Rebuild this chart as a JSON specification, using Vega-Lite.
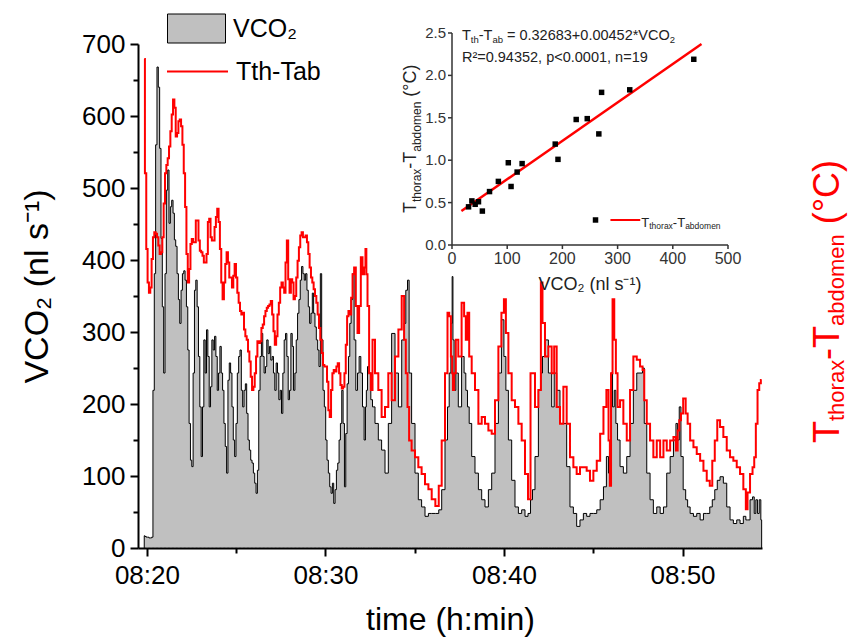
{
"$schema": "https://vega.github.io/schema/vega-lite/v6.json",
"width": 624, "height": 504,
"autosize": {"type": "none"},
"padding": {"left": 138, "top": 44, "right": 89, "bottom": 91},
"background": "white",
"config": {
  "font": "Liberation Sans",
  "view": {"stroke": null},
  "axis": {"grid": false, "labelFont": "Liberation Sans", "titleFont": "Liberation Sans", "titleFontWeight": "normal", "labelFlush": false, "labelOverlap": false},
  "legend": {"labelFont": "Liberation Sans"}
},
"datasets": {
  "series": [
{"t":-0.15,"vco2":17,"dT":2.91},{"t":-0.075,"vco2":16,"dT":2.23},{"t":0,"vco2":15,"dT":1.78},{"t":0.075,"vco2":15,"dT":1.58},{"t":0.15,"vco2":14,"dT":1.52},{"t":0.225,"vco2":14,"dT":1.55},{"t":0.3,"vco2":15,"dT":1.72},{"t":0.375,"vco2":219,"dT":1.85},{"t":0.45,"vco2":381,"dT":1.88},{"t":0.525,"vco2":560,"dT":1.87},{"t":0.6,"vco2":668,"dT":1.85},{"t":0.675,"vco2":640,"dT":1.8},{"t":0.75,"vco2":555,"dT":1.75},{"t":0.825,"vco2":430,"dT":1.76},{"t":0.9,"vco2":335,"dT":1.85},{"t":0.975,"vco2":243,"dT":2.05},{"t":1.05,"vco2":381,"dT":2.23},{"t":1.125,"vco2":497,"dT":2.28},{"t":1.2,"vco2":525,"dT":2.32},{"t":1.275,"vco2":451,"dT":2.39},{"t":1.35,"vco2":474,"dT":2.48},{"t":1.425,"vco2":483,"dT":2.58},{"t":1.5,"vco2":465,"dT":2.67},{"t":1.575,"vco2":428,"dT":2.62},{"t":1.65,"vco2":419,"dT":2.45},{"t":1.725,"vco2":381,"dT":2.47},{"t":1.8,"vco2":345,"dT":2.54},{"t":1.875,"vco2":312,"dT":2.55},{"t":1.95,"vco2":358,"dT":2.51},{"t":2.025,"vco2":381,"dT":2.4},{"t":2.1,"vco2":385,"dT":2.23},{"t":2.175,"vco2":372,"dT":2.03},{"t":2.25,"vco2":335,"dT":1.75},{"t":2.325,"vco2":275,"dT":1.58},{"t":2.4,"vco2":173,"dT":1.66},{"t":2.475,"vco2":122,"dT":1.81},{"t":2.55,"vco2":113,"dT":1.84},{"t":2.625,"vco2":243,"dT":1.82},{"t":2.7,"vco2":358,"dT":1.82},{"t":2.775,"vco2":372,"dT":1.95},{"t":2.85,"vco2":335,"dT":1.95},{"t":2.925,"vco2":266,"dT":1.83},{"t":3.0,"vco2":196,"dT":1.77},{"t":3.075,"vco2":127,"dT":1.76},{"t":3.15,"vco2":196,"dT":1.74},{"t":3.225,"vco2":289,"dT":1.7},{"t":3.3,"vco2":243,"dT":1.7},{"t":3.375,"vco2":303,"dT":1.75},{"t":3.45,"vco2":266,"dT":1.94},{"t":3.525,"vco2":196,"dT":1.96},{"t":3.6,"vco2":224,"dT":1.85},{"t":3.675,"vco2":289,"dT":1.83},{"t":3.75,"vco2":275,"dT":1.83},{"t":3.825,"vco2":294,"dT":1.91},{"t":3.9,"vco2":266,"dT":1.97},{"t":3.975,"vco2":219,"dT":2.02},{"t":4.05,"vco2":243,"dT":1.94},{"t":4.125,"vco2":280,"dT":1.78},{"t":4.2,"vco2":243,"dT":1.58},{"t":4.275,"vco2":219,"dT":1.48},{"t":4.35,"vco2":173,"dT":1.58},{"t":4.425,"vco2":141,"dT":1.69},{"t":4.5,"vco2":104,"dT":1.76},{"t":4.575,"vco2":233,"dT":1.7},{"t":4.65,"vco2":257,"dT":1.61},{"t":4.725,"vco2":243,"dT":1.61},{"t":4.8,"vco2":196,"dT":1.55},{"t":4.875,"vco2":150,"dT":1.62},{"t":4.95,"vco2":127,"dT":1.69},{"t":5.025,"vco2":173,"dT":1.61},{"t":5.1,"vco2":243,"dT":1.52},{"t":5.175,"vco2":266,"dT":1.46},{"t":5.25,"vco2":275,"dT":1.41},{"t":5.325,"vco2":219,"dT":1.39},{"t":5.4,"vco2":196,"dT":1.4},{"t":5.475,"vco2":219,"dT":1.3},{"t":5.55,"vco2":228,"dT":1.26},{"t":5.625,"vco2":187,"dT":1.24},{"t":5.7,"vco2":150,"dT":1.17},{"t":5.775,"vco2":136,"dT":1.11},{"t":5.85,"vco2":122,"dT":1.02},{"t":5.925,"vco2":118,"dT":0.94},{"t":6.0,"vco2":104,"dT":0.96},{"t":6.075,"vco2":90,"dT":1.04},{"t":6.15,"vco2":76,"dT":1.14},{"t":6.225,"vco2":108,"dT":1.23},{"t":6.3,"vco2":219,"dT":1.22},{"t":6.375,"vco2":266,"dT":1.23},{"t":6.45,"vco2":298,"dT":1.31},{"t":6.525,"vco2":266,"dT":1.33},{"t":6.6,"vco2":243,"dT":1.38},{"t":6.675,"vco2":252,"dT":1.41},{"t":6.75,"vco2":289,"dT":1.43},{"t":6.825,"vco2":270,"dT":1.44},{"t":6.9,"vco2":280,"dT":1.45},{"t":6.975,"vco2":261,"dT":1.47},{"t":7.05,"vco2":266,"dT":1.39},{"t":7.125,"vco2":243,"dT":1.29},{"t":7.2,"vco2":219,"dT":1.21},{"t":7.275,"vco2":257,"dT":1.26},{"t":7.35,"vco2":243,"dT":1.39},{"t":7.425,"vco2":206,"dT":1.46},{"t":7.5,"vco2":219,"dT":1.55},{"t":7.575,"vco2":187,"dT":1.58},{"t":7.65,"vco2":243,"dT":1.55},{"t":7.725,"vco2":289,"dT":1.52},{"t":7.8,"vco2":298,"dT":1.7},{"t":7.875,"vco2":266,"dT":1.83},{"t":7.95,"vco2":206,"dT":1.6},{"t":8.025,"vco2":219,"dT":1.52},{"t":8.1,"vco2":298,"dT":1.6},{"t":8.175,"vco2":280,"dT":1.58},{"t":8.25,"vco2":219,"dT":1.48},{"t":8.325,"vco2":243,"dT":1.5},{"t":8.4,"vco2":289,"dT":1.61},{"t":8.475,"vco2":326,"dT":1.71},{"t":8.55,"vco2":345,"dT":1.79},{"t":8.625,"vco2":372,"dT":1.86},{"t":8.7,"vco2":391,"dT":1.88},{"t":8.775,"vco2":381,"dT":1.85},{"t":8.85,"vco2":372,"dT":1.85},{"t":8.925,"vco2":381,"dT":1.86},{"t":9.0,"vco2":358,"dT":1.82},{"t":9.075,"vco2":335,"dT":1.75},{"t":9.15,"vco2":312,"dT":1.67},{"t":9.225,"vco2":326,"dT":1.61},{"t":9.3,"vco2":354,"dT":1.58},{"t":9.375,"vco2":326,"dT":1.54},{"t":9.45,"vco2":307,"dT":1.5},{"t":9.525,"vco2":289,"dT":1.46},{"t":9.6,"vco2":275,"dT":1.39},{"t":9.675,"vco2":252,"dT":1.31},{"t":9.75,"vco2":381,"dT":1.24},{"t":9.825,"vco2":289,"dT":1.16},{"t":9.9,"vco2":219,"dT":1.09},{"t":9.975,"vco2":196,"dT":1.08},{"t":10.05,"vco2":150,"dT":1.08},{"t":10.125,"vco2":122,"dT":0.99},{"t":10.2,"vco2":104,"dT":0.82},{"t":10.275,"vco2":85,"dT":0.78},{"t":10.35,"vco2":76,"dT":0.94},{"t":10.425,"vco2":90,"dT":1.04},{"t":10.5,"vco2":62,"dT":1.06},{"t":10.575,"vco2":81,"dT":1.05},{"t":10.65,"vco2":108,"dT":1.08},{"t":10.725,"vco2":118,"dT":1.1},{"t":10.8,"vco2":150,"dT":1.04},{"t":10.875,"vco2":173,"dT":0.97},{"t":10.95,"vco2":219,"dT":0.95},{"t":11.025,"vco2":173,"dT":0.96},{"t":11.1,"vco2":85,"dT":1.04},{"t":11.175,"vco2":159,"dT":1.21},{"t":11.25,"vco2":228,"dT":1.38},{"t":11.325,"vco2":266,"dT":1.41},{"t":11.4,"vco2":312,"dT":1.39},{"t":11.475,"vco2":345,"dT":1.49},
{"t":11.56,"vco2":381,"dT":1.63},{"t":11.65,"vco2":289,"dT":1.67},{"t":11.75,"vco2":219,"dT":1.44},{"t":11.84,"vco2":243,"dT":1.28},{"t":11.93,"vco2":266,"dT":1.44},{"t":12.03,"vco2":243,"dT":1.73},{"t":12.12,"vco2":196,"dT":1.63},{"t":12.21,"vco2":150,"dT":1.67},{"t":12.27,"vco2":196,"dT":1.78},{"t":12.31,"vco2":219,"dT":1.63},{"t":12.4,"vco2":252,"dT":1.44},{"t":12.49,"vco2":243,"dT":1.04},{"t":12.59,"vco2":206,"dT":0.94},{"t":12.68,"vco2":196,"dT":1.24},{"t":12.87,"vco2":173,"dT":1.04},{"t":13.05,"vco2":150,"dT":0.94},{"t":13.24,"vco2":136,"dT":0.78},{"t":13.43,"vco2":104,"dT":0.84},{"t":13.61,"vco2":173,"dT":1.04},{"t":13.8,"vco2":298,"dT":0.88},{"t":13.99,"vco2":243,"dT":1.14},{"t":14.18,"vco2":196,"dT":1.3},{"t":14.36,"vco2":289,"dT":1.5},{"t":14.45,"vco2":312,"dT":1.24},{"t":14.55,"vco2":358,"dT":1.04},{"t":14.64,"vco2":372,"dT":0.84},{"t":14.73,"vco2":243,"dT":0.64},{"t":14.92,"vco2":173,"dT":0.58},{"t":15.11,"vco2":104,"dT":0.54},{"t":15.29,"vco2":67,"dT":0.48},{"t":15.48,"vco2":57,"dT":0.44},{"t":15.67,"vco2":44,"dT":0.38},{"t":15.86,"vco2":48,"dT":0.35},{"t":16.04,"vco2":48,"dT":0.29},{"t":16.27,"vco2":48,"dT":0.25},{"t":16.42,"vco2":53,"dT":0.37},{"t":16.6,"vco2":81,"dT":0.64},{"t":16.79,"vco2":150,"dT":1.04},{"t":16.88,"vco2":196,"dT":1.4},{"t":16.98,"vco2":243,"dT":1.38},{"t":17.07,"vco2":312,"dT":1.14},{"t":17.12,"vco2":377,"dT":1.04},{"t":17.16,"vco2":289,"dT":0.94},{"t":17.25,"vco2":219,"dT":1.04},{"t":17.35,"vco2":243,"dT":1.24},{"t":17.53,"vco2":196,"dT":1.14},{"t":17.72,"vco2":266,"dT":1.46},{"t":17.81,"vco2":243,"dT":1.38},{"t":17.91,"vco2":219,"dT":1.24},{"t":18.0,"vco2":196,"dT":1.4},{"t":18.1,"vco2":173,"dT":1.14},{"t":18.28,"vco2":127,"dT":1.04},{"t":18.47,"vco2":104,"dT":0.94},{"t":18.66,"vco2":81,"dT":0.74},{"t":18.84,"vco2":67,"dT":0.78},{"t":19.03,"vco2":57,"dT":0.74},{"t":19.22,"vco2":81,"dT":0.7},{"t":19.4,"vco2":104,"dT":0.68},{"t":19.59,"vco2":173,"dT":0.88},{"t":19.78,"vco2":243,"dT":1.2},{"t":19.93,"vco2":317,"dT":1.4},{"t":20.06,"vco2":266,"dT":1.48},{"t":20.15,"vco2":219,"dT":1.28},{"t":20.34,"vco2":150,"dT":1.04},{"t":20.52,"vco2":94,"dT":0.88},{"t":20.71,"vco2":57,"dT":0.84},{"t":20.9,"vco2":48,"dT":0.74},{"t":21.08,"vco2":53,"dT":0.64},{"t":21.27,"vco2":44,"dT":0.44},{"t":21.42,"vco2":48,"dT":0.29},{"t":21.55,"vco2":67,"dT":1.04},{"t":21.64,"vco2":81,"dT":1.04},{"t":21.83,"vco2":127,"dT":0.84},{"t":22.02,"vco2":219,"dT":0.94},{"t":22.11,"vco2":243,"dT":1.58},{"t":22.2,"vco2":266,"dT":1.34},{"t":22.39,"vco2":289,"dT":1.14},{"t":22.58,"vco2":243,"dT":1.2},{"t":22.76,"vco2":196,"dT":1.04},
{"t":22.86,"vco2":243,"dT":1.2},{"t":23.04,"vco2":219,"dT":0.84},{"t":23.23,"vco2":173,"dT":0.74},{"t":23.42,"vco2":173,"dT":0.96},{"t":23.6,"vco2":113,"dT":0.74},{"t":23.79,"vco2":57,"dT":0.54},{"t":23.98,"vco2":48,"dT":0.48},{"t":24.16,"vco2":30,"dT":0.44},{"t":24.35,"vco2":39,"dT":0.48},{"t":24.54,"vco2":48,"dT":0.48},{"t":24.72,"vco2":44,"dT":0.46},{"t":24.91,"vco2":48,"dT":0.4},{"t":25.1,"vco2":48,"dT":0.46},{"t":25.29,"vco2":53,"dT":0.52},{"t":25.48,"vco2":67,"dT":0.68},{"t":25.66,"vco2":85,"dT":0.84},{"t":25.81,"vco2":127,"dT":0.94},{"t":25.9,"vco2":104,"dT":0.64},{"t":25.96,"vco2":150,"dT":0.37},{"t":26.03,"vco2":243,"dT":1.04},{"t":26.13,"vco2":196,"dT":1.48},{"t":26.22,"vco2":219,"dT":1.24},{"t":26.31,"vco2":173,"dT":1.04},{"t":26.41,"vco2":150,"dT":0.84},{"t":26.59,"vco2":113,"dT":0.88},{"t":26.78,"vco2":104,"dT":0.74},{"t":26.97,"vco2":127,"dT":0.64},{"t":27.15,"vco2":173,"dT":0.94},{"t":27.34,"vco2":219,"dT":1.14},{"t":27.53,"vco2":243,"dT":1.12},{"t":27.71,"vco2":243,"dT":1.08},{"t":27.81,"vco2":250,"dT":1.06},{"t":27.9,"vco2":173,"dT":0.88},{"t":28.09,"vco2":104,"dT":0.74},{"t":28.27,"vco2":67,"dT":0.64},{"t":28.46,"vco2":48,"dT":0.54},{"t":28.65,"vco2":57,"dT":0.64},{"t":28.84,"vco2":48,"dT":0.54},{"t":29.02,"vco2":57,"dT":0.64},{"t":29.21,"vco2":104,"dT":0.58},{"t":29.4,"vco2":127,"dT":0.64},{"t":29.58,"vco2":150,"dT":0.66},{"t":29.68,"vco2":173,"dT":0.58},{"t":29.77,"vco2":150,"dT":0.7},{"t":29.86,"vco2":196,"dT":0.76},{"t":29.96,"vco2":127,"dT":0.8},{"t":30.11,"vco2":81,"dT":0.89},{"t":30.24,"vco2":67,"dT":0.8},{"t":30.33,"vco2":57,"dT":0.74},{"t":30.52,"vco2":48,"dT":0.64},{"t":30.7,"vco2":44,"dT":0.6},{"t":30.89,"vco2":48,"dT":0.56},{"t":31.08,"vco2":39,"dT":0.52},{"t":31.26,"vco2":48,"dT":0.46},{"t":31.45,"vco2":48,"dT":0.4},{"t":31.6,"vco2":57,"dT":0.37},{"t":31.73,"vco2":67,"dT":0.52},{"t":31.88,"vco2":81,"dT":0.64},{"t":32.01,"vco2":94,"dT":0.76},{"t":32.19,"vco2":99,"dT":0.72},{"t":32.38,"vco2":90,"dT":0.66},{"t":32.57,"vco2":57,"dT":0.58},{"t":32.75,"vco2":39,"dT":0.54},{"t":32.94,"vco2":34,"dT":0.52},{"t":33.13,"vco2":39,"dT":0.48},{"t":33.31,"vco2":34,"dT":0.44},{"t":33.5,"vco2":44,"dT":0.35},{"t":33.59,"vco2":39,"dT":0.23},{"t":33.69,"vco2":39,"dT":0.33},{"t":33.87,"vco2":67,"dT":0.44},{"t":33.97,"vco2":71,"dT":0.48},{"t":34.06,"vco2":48,"dT":0.54},{"t":34.15,"vco2":67,"dT":0.74},{"t":34.25,"vco2":48,"dT":0.94},{"t":34.34,"vco2":67,"dT":0.98},{"t":34.43,"vco2":39,"dT":1.0}
  ],
  "scatter": [
{"vco2":30,"dT":0.45},{"vco2":36,"dT":0.52},{"vco2":42,"dT":0.48},{"vco2":48,"dT":0.51},{"vco2":55,"dT":0.4},{"vco2":68,"dT":0.63},{"vco2":84,"dT":0.75},{"vco2":102,"dT":0.97},{"vco2":107,"dT":0.69},{"vco2":118,"dT":0.86},{"vco2":127,"dT":0.96},{"vco2":187,"dT":1.19},{"vco2":192,"dT":1.01},{"vco2":225,"dT":1.48},{"vco2":245,"dT":1.49},{"vco2":266,"dT":1.31},{"vco2":271,"dT":1.8},{"vco2":322,"dT":1.83},{"vco2":438,"dT":2.19}
  ],
  "fit": [{"vco2":17,"dT":0.40},{"vco2":452,"dT":2.37}],
  "ixt": [{"v":0},{"v":100},{"v":200},{"v":300},{"v":400},{"v":500}],
  "iyt": [{"v":0},{"v":0.5},{"v":1},{"v":1.5},{"v":2},{"v":2.5}]
},
"layer": [
  {
    "layer": [
      {
        "data": {"name": "series"},
        "mark": {"type": "area", "interpolate": "step", "stroke": "#000000", "strokeWidth": 1},
        "encoding": {
          "x": {"field": "t", "type": "quantitative", "scale": {"domain": [-0.5, 34.45], "nice": false, "zero": false},
            "axis": {"orient": "bottom", "values": [0,5,10,15,20,25,30], "labelExpr": "datum.value % 10 === 0 ? '08:' + (20 + datum.value) : ''",
              "title": "time (h:min)", "titleFontSize": 32, "titleColor": "#000000", "titlePadding": 16,
              "domainColor": "#000000", "domainWidth": 2, "tickColor": "#000000", "tickWidth": 2,
              "tickSize": {"condition": {"test": "datum.value % 10 === 0", "value": 8}, "value": 5},
              "labelFontSize": 26, "labelColor": "#000000", "labelPadding": 6}},
          "y": {"field": "vco2", "type": "quantitative", "scale": {"domain": [0, 700], "nice": false},
            "axis": {"orient": "left", "values": [0,50,100,150,200,250,300,350,400,450,500,550,600,650,700],
              "labelExpr": "datum.value % 100 === 0 ? datum.label : ''",
              "title": "VCO₂ (nl s⁻¹)", "titleFontSize": 34, "titleColor": "#000000", "titlePadding": 27, "titleY": 242,
              "domainColor": "#000000", "domainWidth": 2, "tickColor": "#000000", "tickWidth": 2,
              "tickSize": {"condition": {"test": "datum.value % 100 === 0", "value": 8}, "value": 5},
              "labelFontSize": 26, "labelColor": "#000000", "labelPadding": 5}},
          "fill": {"datum": "VCO₂", "type": "nominal", "scale": {"range": ["#c0c0c0"]},
            "legend": {"orient": "none", "legendX": 29, "legendY": -45, "title": null, "padding": 0,
              "symbolType": "M-1,-0.5H1V0.5H-1Z", "symbolSize": 3364, "symbolStrokeColor": "#000000", "symbolStrokeWidth": 1,
              "labelFontSize": 25, "labelOffset": 7, "labelColor": "#000000"}}
        }
      }
    ]
  },
  {
    "layer": [
      {
        "data": {"name": "series"},
        "mark": {"type": "line", "interpolate": "step", "strokeWidth": 2},
        "encoding": {
          "x": {"field": "t", "type": "quantitative", "scale": {"domain": [-0.5, 34.45], "nice": false, "zero": false}, "axis": null},
          "y": {"field": "dT", "type": "quantitative", "scale": {"domain": [0, 3], "nice": false},
            "axis": {"orient": "right", "values": [0,0.25,0.5,0.75,1,1.25,1.5,1.75,2,2.25,2.5,2.75,3],
              "labelExpr": "datum.value % 0.5 === 0 ? format(datum.value, '.1f') : ''", "title": null,
              "domainColor": "#ff0000", "domainWidth": 2, "tickColor": "#ff0000", "tickWidth": 2,
              "tickSize": {"condition": {"test": "datum.value % 0.5 === 0", "value": 8}, "value": 5},
              "labelFontSize": 26, "labelColor": "#ff0000", "labelPadding": 5}},
          "stroke": {"datum": "Tth-Tab", "type": "nominal", "scale": {"range": ["#ff0000"]},
            "legend": {"orient": "none", "legendX": 28, "legendY": -4, "title": null, "padding": 0,
              "symbolType": "stroke", "symbolSize": 3721, "symbolStrokeWidth": 2,
              "labelFontSize": 25, "labelOffset": 7, "labelColor": "#000000"}}
        }
      },
      {"data": {"values": [{}]}, "mark": {"type": "text", "angle": 270, "align": "left", "baseline": "alphabetic", "dx": 0, "dy": 0, "fontSize": 36, "color": "#ff0000", "text": "T"},
       "encoding": {"x": {"datum": 38.77, "type": "quantitative", "axis": null}, "y": {"datum": 0.625, "type": "quantitative", "axis": null}}},
      {"data": {"values": [{}]}, "mark": {"type": "text", "angle": 270, "align": "left", "baseline": "alphabetic", "dx": 22, "dy": 5, "fontSize": 22, "color": "#ff0000", "text": "thorax"},
       "encoding": {"x": {"datum": 38.77, "type": "quantitative", "axis": null}, "y": {"datum": 0.625, "type": "quantitative", "axis": null}}},
      {"data": {"values": [{}]}, "mark": {"type": "text", "angle": 270, "align": "left", "baseline": "alphabetic", "dx": 83, "dy": 0, "fontSize": 36, "color": "#ff0000", "text": "-T"},
       "encoding": {"x": {"datum": 38.77, "type": "quantitative", "axis": null}, "y": {"datum": 0.625, "type": "quantitative", "axis": null}}},
      {"data": {"values": [{}]}, "mark": {"type": "text", "angle": 270, "align": "left", "baseline": "alphabetic", "dx": 117, "dy": 5, "fontSize": 22, "color": "#ff0000", "text": "abdomen"},
       "encoding": {"x": {"datum": 38.77, "type": "quantitative", "axis": null}, "y": {"datum": 0.625, "type": "quantitative", "axis": null}}},
      {"data": {"values": [{}]}, "mark": {"type": "text", "angle": 270, "align": "left", "baseline": "alphabetic", "dx": 218.7, "dy": 0, "fontSize": 36, "color": "#ff0000", "text": "(°C)"},
       "encoding": {"x": {"datum": 38.77, "type": "quantitative", "axis": null}, "y": {"datum": 0.625, "type": "quantitative", "axis": null}}}
    ]
  },
  {
    "layer": [
      {
        "data": {"name": "fit"},
        "mark": {"type": "line", "color": "#ff0000", "strokeWidth": 2.5},
        "encoding": {
          "x": {"field": "vco2", "type": "quantitative", "scale": {"domain": [0, 500], "range": [314, 590], "nice": false, "zero": false}, "axis": null},
          "y": {"field": "dT", "type": "quantitative", "scale": {"domain": [0, 2.5], "range": [201, -11], "nice": false}, "axis": null}
        }
      },
      {"data": {"values": [{}]}, "mark": {"type": "rule", "color": "#333333", "strokeWidth": 1.5},
       "encoding": {"x": {"datum": 0, "type": "quantitative", "axis": null}, "x2": {"datum": 500}, "y": {"datum": 0, "type": "quantitative", "axis": null}}},
      {"data": {"values": [{}]}, "mark": {"type": "rule", "color": "#333333", "strokeWidth": 1.5},
       "encoding": {"x": {"datum": 0, "type": "quantitative", "axis": null}, "y": {"datum": 0, "type": "quantitative", "axis": null}, "y2": {"datum": 2.5}}},
      {"data": {"name": "ixt"}, "mark": {"type": "rule", "color": "#333333", "strokeWidth": 1.5, "y2Offset": 4},
       "encoding": {"x": {"field": "v", "type": "quantitative", "axis": null}, "y": {"datum": 0, "type": "quantitative", "axis": null}, "y2": {"datum": 0}}},
      {"data": {"name": "iyt"}, "mark": {"type": "rule", "color": "#333333", "strokeWidth": 1.5, "x2Offset": -4},
       "encoding": {"y": {"field": "v", "type": "quantitative", "axis": null}, "x": {"datum": 0, "type": "quantitative", "axis": null}, "x2": {"datum": 0}}},
      {"data": {"name": "ixt"}, "mark": {"type": "text", "baseline": "top", "align": "center", "dy": 6, "fontSize": 16, "color": "#333333"},
       "encoding": {"x": {"field": "v", "type": "quantitative", "axis": null}, "y": {"datum": 0, "type": "quantitative", "axis": null}, "text": {"field": "v", "type": "quantitative"}}},
      {"data": {"name": "iyt"}, "mark": {"type": "text", "baseline": "middle", "align": "right", "dx": -6, "fontSize": 15, "color": "#333333"},
       "encoding": {"y": {"field": "v", "type": "quantitative", "axis": null}, "x": {"datum": 0, "type": "quantitative", "axis": null}, "text": {"field": "v", "type": "quantitative", "format": ".1f"}}},
      {"data": {"values": [{}]}, "mark": {"type": "text", "baseline": "middle", "align": "center", "dy": 40, "fontSize": 18, "color": "#222222", "text": "VCO₂ (nl s⁻¹)"},
       "encoding": {"x": {"datum": 250, "type": "quantitative", "axis": null}, "y": {"datum": 0, "type": "quantitative", "axis": null}}},
      {
        "data": {"name": "scatter"},
        "mark": {"type": "point", "shape": "square", "filled": true, "color": "#000000", "size": 30, "opacity": 1},
        "encoding": {
          "x": {"field": "vco2", "type": "quantitative", "axis": null},
          "y": {"field": "dT", "type": "quantitative", "axis": null}
        }
      },
      {"data": {"values": [{}]}, "mark": {"type": "point", "shape": "square", "filled": true, "color": "#000000", "size": 30, "opacity": 1},
       "encoding": {"x": {"datum": 260, "type": "quantitative", "axis": null}, "y": {"datum": 0.295, "type": "quantitative", "axis": null}}},
      {"data": {"values": [{}]}, "mark": {"type": "rule", "color": "#ff0000", "strokeWidth": 2},
       "encoding": {"x": {"datum": 287, "type": "quantitative", "axis": null}, "x2": {"datum": 341}, "y": {"datum": 0.295, "type": "quantitative", "axis": null}}},
      {"data": {"values": [{}]}, "mark": {"type": "text", "align": "left", "baseline": "alphabetic", "dx": 0, "dy": 0, "fontSize": 13, "color": "#222222", "text": "T"},
       "encoding": {"x": {"datum": 343, "type": "quantitative", "axis": null}, "y": {"datum": 0.212, "type": "quantitative", "axis": null}}},
      {"data": {"values": [{}]}, "mark": {"type": "text", "align": "left", "baseline": "alphabetic", "dx": 7.9, "dy": 2, "fontSize": 8.5, "color": "#222222", "text": "thorax"},
       "encoding": {"x": {"datum": 343, "type": "quantitative", "axis": null}, "y": {"datum": 0.212, "type": "quantitative", "axis": null}}},
      {"data": {"values": [{}]}, "mark": {"type": "text", "align": "left", "baseline": "alphabetic", "dx": 31.5, "dy": 0, "fontSize": 13, "color": "#222222", "text": "-T"},
       "encoding": {"x": {"datum": 343, "type": "quantitative", "axis": null}, "y": {"datum": 0.212, "type": "quantitative", "axis": null}}},
      {"data": {"values": [{}]}, "mark": {"type": "text", "align": "left", "baseline": "alphabetic", "dx": 43.8, "dy": 2, "fontSize": 8.5, "color": "#222222", "text": "abdomen"},
       "encoding": {"x": {"datum": 343, "type": "quantitative", "axis": null}, "y": {"datum": 0.212, "type": "quantitative", "axis": null}}},
      {"data": {"values": [{}]}, "mark": {"type": "text", "align": "left", "baseline": "alphabetic", "dx": 0, "dy": 0, "fontSize": 14.5, "color": "#222222", "text": "T"},
       "encoding": {"x": {"datum": 18, "type": "quantitative", "axis": null}, "y": {"datum": 2.423, "type": "quantitative", "axis": null}}},
      {"data": {"values": [{}]}, "mark": {"type": "text", "align": "left", "baseline": "alphabetic", "dx": 8.9, "dy": 3, "fontSize": 9.5, "color": "#222222", "text": "th"},
       "encoding": {"x": {"datum": 18, "type": "quantitative", "axis": null}, "y": {"datum": 2.423, "type": "quantitative", "axis": null}}},
      {"data": {"values": [{}]}, "mark": {"type": "text", "align": "left", "baseline": "alphabetic", "dx": 16.8, "dy": 0, "fontSize": 14.5, "color": "#222222", "text": "-T"},
       "encoding": {"x": {"datum": 18, "type": "quantitative", "axis": null}, "y": {"datum": 2.423, "type": "quantitative", "axis": null}}},
      {"data": {"values": [{}]}, "mark": {"type": "text", "align": "left", "baseline": "alphabetic", "dx": 30.5, "dy": 3, "fontSize": 9.5, "color": "#222222", "text": "ab"},
       "encoding": {"x": {"datum": 18, "type": "quantitative", "axis": null}, "y": {"datum": 2.423, "type": "quantitative", "axis": null}}},
      {"data": {"values": [{}]}, "mark": {"type": "text", "align": "left", "baseline": "alphabetic", "dx": 45.0, "dy": 0, "fontSize": 14.5, "color": "#222222", "text": "= 0.32683+0.00452*VCO"},
       "encoding": {"x": {"datum": 18, "type": "quantitative", "axis": null}, "y": {"datum": 2.423, "type": "quantitative", "axis": null}}},
      {"data": {"values": [{}]}, "mark": {"type": "text", "align": "left", "baseline": "alphabetic", "dx": 207.8, "dy": 3, "fontSize": 9.5, "color": "#222222", "text": "2"},
       "encoding": {"x": {"datum": 18, "type": "quantitative", "axis": null}, "y": {"datum": 2.423, "type": "quantitative", "axis": null}}},
      {"data": {"values": [{}]}, "mark": {"type": "text", "align": "left", "baseline": "alphabetic", "dx": 0, "dy": 0, "fontSize": 14.5, "color": "#222222", "text": "R²=0.94352, p<0.0001, n=19"},
       "encoding": {"x": {"datum": 18, "type": "quantitative", "axis": null}, "y": {"datum": 2.158, "type": "quantitative", "axis": null}}},
      {"data": {"values": [{}]}, "mark": {"type": "text", "angle": 270, "align": "left", "baseline": "alphabetic", "dx": 0, "dy": 0, "fontSize": 18, "color": "#222222", "text": "T"},
       "encoding": {"x": {"datum": -65.2, "type": "quantitative", "axis": null}, "y": {"datum": 0.377, "type": "quantitative", "axis": null}}},
      {"data": {"values": [{}]}, "mark": {"type": "text", "angle": 270, "align": "left", "baseline": "alphabetic", "dx": 11.0, "dy": 5, "fontSize": 12, "color": "#222222", "text": "thorax"},
       "encoding": {"x": {"datum": -65.2, "type": "quantitative", "axis": null}, "y": {"datum": 0.377, "type": "quantitative", "axis": null}}},
      {"data": {"values": [{}]}, "mark": {"type": "text", "angle": 270, "align": "left", "baseline": "alphabetic", "dx": 44.3, "dy": 0, "fontSize": 18, "color": "#222222", "text": "-T"},
       "encoding": {"x": {"datum": -65.2, "type": "quantitative", "axis": null}, "y": {"datum": 0.377, "type": "quantitative", "axis": null}}},
      {"data": {"values": [{}]}, "mark": {"type": "text", "angle": 270, "align": "left", "baseline": "alphabetic", "dx": 61.3, "dy": 5, "fontSize": 12, "color": "#222222", "text": "abdomen"},
       "encoding": {"x": {"datum": -65.2, "type": "quantitative", "axis": null}, "y": {"datum": 0.377, "type": "quantitative", "axis": null}}},
      {"data": {"values": [{}]}, "mark": {"type": "text", "angle": 270, "align": "left", "baseline": "alphabetic", "dx": 116.3, "dy": 0, "fontSize": 18, "color": "#222222", "text": "(°C)"},
       "encoding": {"x": {"datum": -65.2, "type": "quantitative", "axis": null}, "y": {"datum": 0.377, "type": "quantitative", "axis": null}}}
    ]
  }
],
"resolve": {"scale": {"x": "independent", "y": "independent"}}
}
